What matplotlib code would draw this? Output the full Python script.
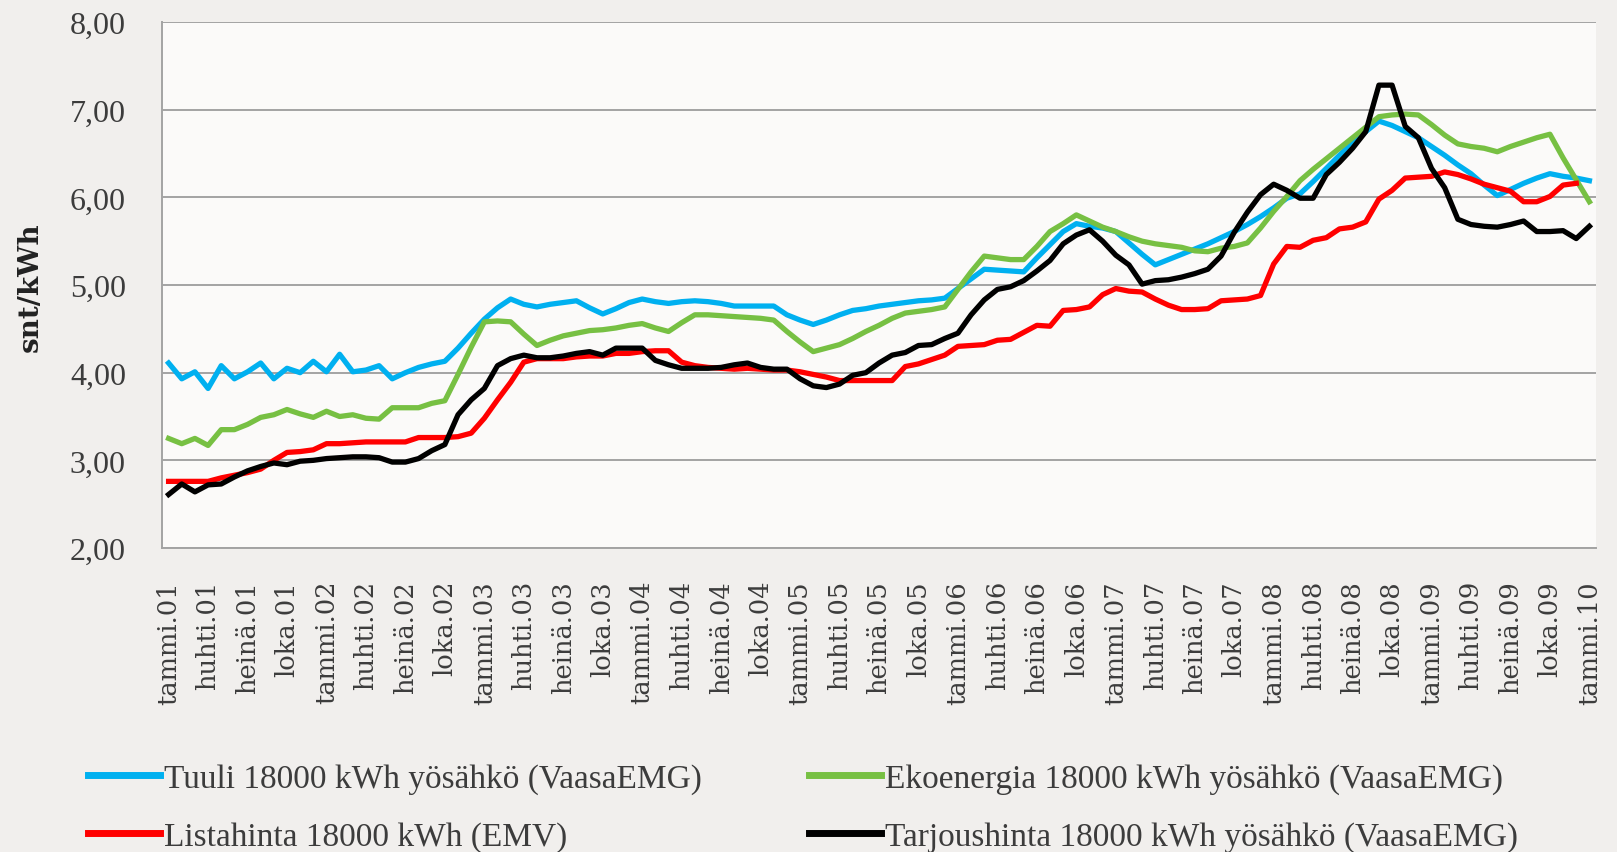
import numpy as np
import matplotlib
matplotlib.use('Agg')
from matplotlib import pyplot as plt

# monthly prices, snt/kWh, tammi.01 .. tammi.10
month_names = ['tammi', 'huhti', 'heinä', 'loka']
years = ['01', '02', '03', '04', '05', '06', '07', '08', '09', '10']

tuuli = [4.11, 3.93, 4.01, 3.82, 4.08, 3.93, 4.01, 4.11, 3.93, 4.05, 4.00, 4.13,
         4.01, 4.21, 4.01, 4.03, 4.08, 3.93, 4.00, 4.06, 4.10, 4.13,
         4.28, 4.45, 4.61, 4.74, 4.84, 4.78, 4.75, 4.78, 4.80, 4.82, 4.74, 4.67,
         4.73, 4.80, 4.84, 4.81, 4.79, 4.81, 4.82, 4.81, 4.79,
         4.76, 4.76, 4.76, 4.76, 4.66, 4.60, 4.55, 4.60, 4.66, 4.71, 4.73, 4.76,
         4.78, 4.80, 4.82, 4.83, 4.85, 4.96, 5.07, 5.18, 5.17,
         5.16, 5.15, 5.31, 5.46, 5.61, 5.70, 5.67, 5.65, 5.61, 5.48, 5.35, 5.23,
         5.29, 5.35, 5.41, 5.47, 5.54, 5.61, 5.69, 5.78, 5.88, 5.99,
         6.04, 6.18, 6.33, 6.48, 6.62, 6.75, 6.87, 6.82, 6.75, 6.68, 6.58, 6.48,
         6.37, 6.27, 6.14, 6.02, 6.09, 6.16, 6.22, 6.27, 6.24, 6.22, 6.19]

eko = [3.25, 3.19, 3.25, 3.17, 3.35, 3.35, 3.41, 3.49, 3.52, 3.58, 3.53, 3.49,
       3.56, 3.50, 3.52, 3.48, 3.47, 3.60, 3.60, 3.60, 3.65, 3.68,
       3.98, 4.29, 4.58, 4.59, 4.58, 4.44, 4.31, 4.37, 4.42, 4.45, 4.48, 4.49,
       4.51, 4.54, 4.56, 4.51, 4.47, 4.57, 4.66, 4.66, 4.65,
       4.64, 4.63, 4.62, 4.60, 4.47, 4.35, 4.24, 4.28, 4.32, 4.39, 4.47, 4.54,
       4.62, 4.68, 4.70, 4.72, 4.75, 4.95, 5.15, 5.33, 5.31,
       5.29, 5.29, 5.44, 5.61, 5.70, 5.80, 5.73, 5.66, 5.61, 5.55, 5.50, 5.47,
       5.45, 5.43, 5.39, 5.38, 5.42, 5.44, 5.48, 5.65, 5.84, 6.01,
       6.19, 6.32, 6.44, 6.56, 6.68, 6.80, 6.92, 6.94, 6.95, 6.94, 6.83, 6.71,
       6.61, 6.58, 6.56, 6.52, 6.58, 6.63, 6.68, 6.72, 6.45, 6.20, 5.95]

lista = [2.76, 2.76, 2.76, 2.76, 2.80, 2.83, 2.86, 2.90, 3.00, 3.09, 3.10, 3.12,
         3.19, 3.19, 3.20, 3.21, 3.21, 3.21, 3.21, 3.26, 3.26, 3.26,
         3.27, 3.31, 3.48, 3.69, 3.89, 4.12, 4.16, 4.16, 4.16, 4.18, 4.19, 4.19,
         4.22, 4.22, 4.24, 4.25, 4.25, 4.12, 4.08, 4.06, 4.05,
         4.04, 4.05, 4.04, 4.03, 4.03, 4.01, 3.98, 3.95, 3.91, 3.91, 3.91, 3.91,
         3.91, 4.07, 4.10, 4.15, 4.20, 4.30, 4.31, 4.32, 4.37,
         4.38, 4.46, 4.54, 4.53, 4.71, 4.72, 4.75, 4.89, 4.96, 4.93, 4.92, 4.84,
         4.77, 4.72, 4.72, 4.73, 4.82, 4.83, 4.84, 4.88, 5.24, 5.44,
         5.43, 5.51, 5.54, 5.64, 5.66, 5.72, 5.98, 6.08, 6.22, 6.23, 6.24, 6.29,
         6.26, 6.21, 6.15, 6.11, 6.07, 5.95, 5.95, 6.01, 6.14, 6.16, np.nan]

tarjous = [2.61, 2.73, 2.64, 2.72, 2.73, 2.81, 2.88, 2.93, 2.97, 2.95, 2.99, 3.00,
           3.02, 3.03, 3.04, 3.04, 3.03, 2.98, 2.98, 3.02, 3.11, 3.18,
           3.52, 3.69, 3.82, 4.08, 4.16, 4.20, 4.17, 4.17, 4.19, 4.22, 4.24, 4.20,
           4.28, 4.28, 4.28, 4.14, 4.09, 4.05, 4.05, 4.05, 4.06,
           4.09, 4.11, 4.06, 4.04, 4.04, 3.93, 3.85, 3.83, 3.87, 3.97, 4.00, 4.11,
           4.20, 4.23, 4.31, 4.32, 4.39, 4.45, 4.66, 4.83, 4.95,
           4.98, 5.05, 5.16, 5.28, 5.47, 5.57, 5.63, 5.50, 5.34, 5.23, 5.01, 5.05,
           5.06, 5.09, 5.13, 5.18, 5.33, 5.60, 5.83, 6.03, 6.15, 6.08,
           5.99, 5.99, 6.26, 6.40, 6.56, 6.75, 7.28, 7.28, 6.81, 6.68, 6.33, 6.11,
           5.75, 5.69, 5.67, 5.66, 5.69, 5.73, 5.61, 5.61, 5.62, 5.53, 5.67]

x = np.arange(len(tuuli))
tick_pos = x[::3]
tick_labels = [m + '.' + y for y in years for m in month_names][:len(tick_pos)]

grid_col = '#a3a3a3'
text_col = '#3c3c3c'

fig = plt.figure(figsize=(16.17, 8.53), dpi=100, facecolor='#f1efed')
ax = fig.add_axes([0.1002, 0.3564, 0.8868, 0.6166])
ax.set_facecolor('#fbfaf9')

lw = 3.8
l1, = ax.plot(x, tuuli, color='#00b0f0', lw=lw, label='Tuuli 18000 kWh yösähkö (VaasaEMG)')
l2, = ax.plot(x, eko, color='#77c043', lw=lw, label='Ekoenergia 18000 kWh yösähkö (VaasaEMG)')
l3, = ax.plot(x, lista, color='#ff0000', lw=lw, label='Listahinta 18000 kWh (EMV)')
l4, = ax.plot(x, tarjous, color='#000000', lw=lw, label='Tarjoushinta 18000 kWh yösähkö (VaasaEMG)')

ax.set_xlim(-0.5, len(x) - 0.5)
ax.set_ylim(2, 8)
yt = np.arange(2, 9)
ax.set_yticks(yt)
ax.set_yticklabels([('%.2f' % v).replace('.', ',') for v in yt],
                   family='Liberation Serif', fontsize=23, color=text_col)
ax.set_xticks(tick_pos)
ax.set_xticklabels(tick_labels, rotation=90, family='DejaVu Serif',
                   fontsize=18.5, color=text_col)
ax.tick_params(axis='both', length=0)
ax.tick_params(axis='y', pad=26)
ax.tick_params(axis='x', pad=23)

ax.grid(axis='y', color=grid_col, lw=1.4)
ax.set_axisbelow(True)
for s in ['top', 'right']:
    ax.spines[s].set_visible(False)
for s in ['left', 'bottom']:
    ax.spines[s].set_color(grid_col)
    ax.spines[s].set_linewidth(1.4)

fig.text(0.019, 0.6635, 'snt/kWh', rotation=90, ha='center', va='center',
         family='DejaVu Serif', fontweight='bold', fontsize=20, color='#222222')

leg = fig.legend([l1, l3, l2, l4], [l.get_label() for l in [l1, l3, l2, l4]],
                 ncol=2, loc='upper left', bbox_to_anchor=(0.0544, 0.104),
                 frameon=False, prop={'family': 'Liberation Serif', 'size': 24},
                 handlelength=2.16, handletextpad=0.12, columnspacing=3.2,
                 labelspacing=0.82, borderpad=0, borderaxespad=0, labelcolor=text_col)
for h in leg.get_lines():
    h.set_linewidth(5)

plt.savefig('out.png', dpi=100, facecolor=fig.get_facecolor())
